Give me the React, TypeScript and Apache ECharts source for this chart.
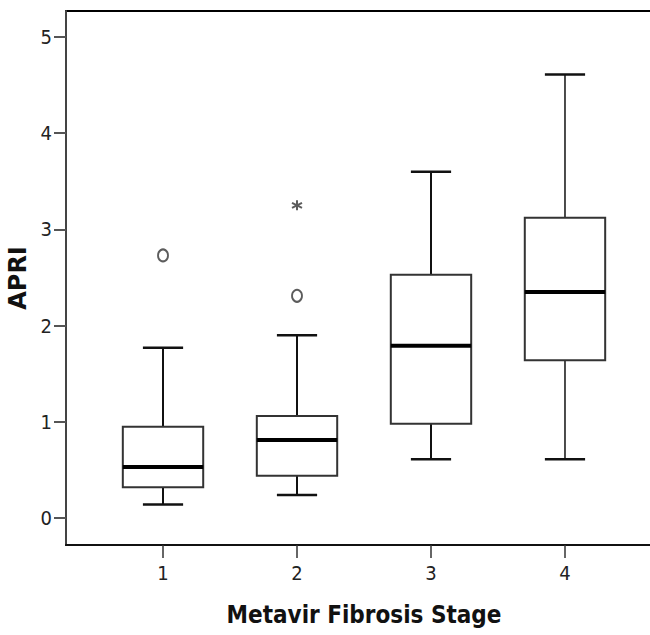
import React, { useEffect, useRef } from "react";
import * as echarts from "echarts";

const stages = [1, 2, 3, 4];
const stageLabels = ["1", "2", "3", "4"];
const whiskerLow = [0.14, 0.24, 0.61, 0.61];
const q1 = [0.32, 0.44, 0.98, 1.64];
const median = [0.53, 0.81, 1.79, 2.35];
const q3 = [0.95, 1.06, 2.53, 3.12];
const whiskerHigh = [1.77, 1.9, 3.6, 4.61];
const outliers = [
  [1, 2.73],
  [2, 2.31],
];
const extremes = [[2, 3.25]];
const yTicks = [0, 1, 2, 3, 4, 5];

const FONT = "'Liberation Sans Narrow', 'DejaVu Sans Condensed', 'Liberation Sans', sans-serif";
const WIDE_FONT = "'DejaVu Sans', Verdana, sans-serif";
const BOX_W = 0.6;

export default function App() {
  const ref = useRef<HTMLDivElement>(null);
  useEffect(() => {
    if (!ref.current) return;
    const chart = echarts.init(ref.current, undefined, { renderer: "svg" });
    const boxData = stages.map((s, i) => [s, whiskerLow[i], q1[i], median[i], q3[i], whiskerHigh[i]]);
    chart.setOption({
      animation: false,
      backgroundColor: "#fff",
      grid: {
        left: 66,
        top: 11,
        width: 596,
        height: 534,
        outerBoundsMode: "none",
        containLabel: false,
        show: true,
        borderColor: "#000",
        borderWidth: 2,
        backgroundColor: "transparent",
      },
      xAxis: {
        type: "value",
        min: 0.276,
        max: 4.724,
        name: "Metavir Fibrosis Stage",
        nameLocation: "middle",
        nameGap: 58,
        nameTextStyle: { fontFamily: FONT, fontWeight: "bold", fontSize: 24, color: "#111" },
        axisLine: { show: true, onZero: false, lineStyle: { color: "#111", width: 2 } },
        axisTick: { show: true, inside: false, length: 13, lineStyle: { color: "#333", width: 1.5 }, customValues: stages },
        axisLabel: {
          fontFamily: FONT,
          fontSize: 20,
          color: "#222",
          margin: 18,
          customValues: stages,
          formatter: (v: number) => stageLabels[stages.indexOf(Math.round(v))] ?? "",
        },
        splitLine: { show: false },
      },
      yAxis: {
        type: "value",
        min: -0.28,
        max: 5.27,
        name: "APRI",
        nameLocation: "middle",
        nameGap: 28,
        nameTextStyle: { fontFamily: WIDE_FONT, fontWeight: "bold", fontSize: 24, color: "#111" },
        axisLine: { show: true, onZero: false, lineStyle: { color: "#444", width: 2 } },
        axisTick: { show: true, inside: false, length: 12, lineStyle: { color: "#555", width: 2 }, customValues: yTicks },
        axisLabel: { fontFamily: FONT, fontSize: 20, color: "#222", margin: 14, customValues: yTicks },
        splitLine: { show: false },
      },
      series: [
        {
          type: "custom",
          data: boxData,
          encode: { x: 0, y: [1, 2, 3, 4, 5] },
          clip: false,
          renderItem: (params: any, api: any) => {
            const x = api.value(0);
            const lo = api.coord([x, api.value(1)]);
            const b1 = api.coord([x, api.value(2)]);
            const md = api.coord([x, api.value(3)]);
            const b3 = api.coord([x, api.value(4)]);
            const hi = api.coord([x, api.value(5)]);
            const half = api.size([BOX_W, 0])[0] / 2;
            const cap = half / 2;
            const cx = lo[0];
            const wStyle = { stroke: "#111", lineWidth: params.dataIndex === 3 ? 1.5 : 2 };
            return {
              type: "group",
              children: [
                { type: "line", shape: { x1: cx, y1: b3[1], x2: cx, y2: hi[1] }, style: wStyle },
                { type: "line", shape: { x1: cx - cap, y1: hi[1], x2: cx + cap, y2: hi[1] }, style: { stroke: "#111", lineWidth: 2.5 } },
                { type: "line", shape: { x1: cx, y1: b1[1], x2: cx, y2: lo[1] }, style: wStyle },
                { type: "line", shape: { x1: cx - cap, y1: lo[1], x2: cx + cap, y2: lo[1] }, style: { stroke: "#111", lineWidth: 2.5 } },
                {
                  type: "rect",
                  shape: { x: cx - half, y: b3[1], width: half * 2, height: b1[1] - b3[1] },
                  style: { fill: "#fff", stroke: "#333", lineWidth: 2 },
                },
                { type: "line", shape: { x1: cx - half, y1: md[1], x2: cx + half, y2: md[1] }, style: { stroke: "#000", lineWidth: 4 } },
              ],
            };
          },
          z: 2,
        },
        {
          type: "scatter",
          data: outliers,
          symbol: "emptyCircle",
          symbolSize: [10, 12],
          itemStyle: { color: "#333", borderColor: "#333", borderWidth: 2 },
          z: 3,
        },
        {
          type: "scatter",
          data: extremes,
          symbol: "path://M5 0 L5 10 M0.7 2.5 L9.3 7.5 M0.7 7.5 L9.3 2.5",
          symbolSize: 10,
          itemStyle: { color: "none", borderColor: "#333", borderWidth: 2 },
          z: 3,
        },
      ],
    });
    return () => chart.dispose();
  }, []);
  return <div ref={ref} style={{ position: "absolute", left: 0, top: 0, width: 650, height: 635 }} />;
}
